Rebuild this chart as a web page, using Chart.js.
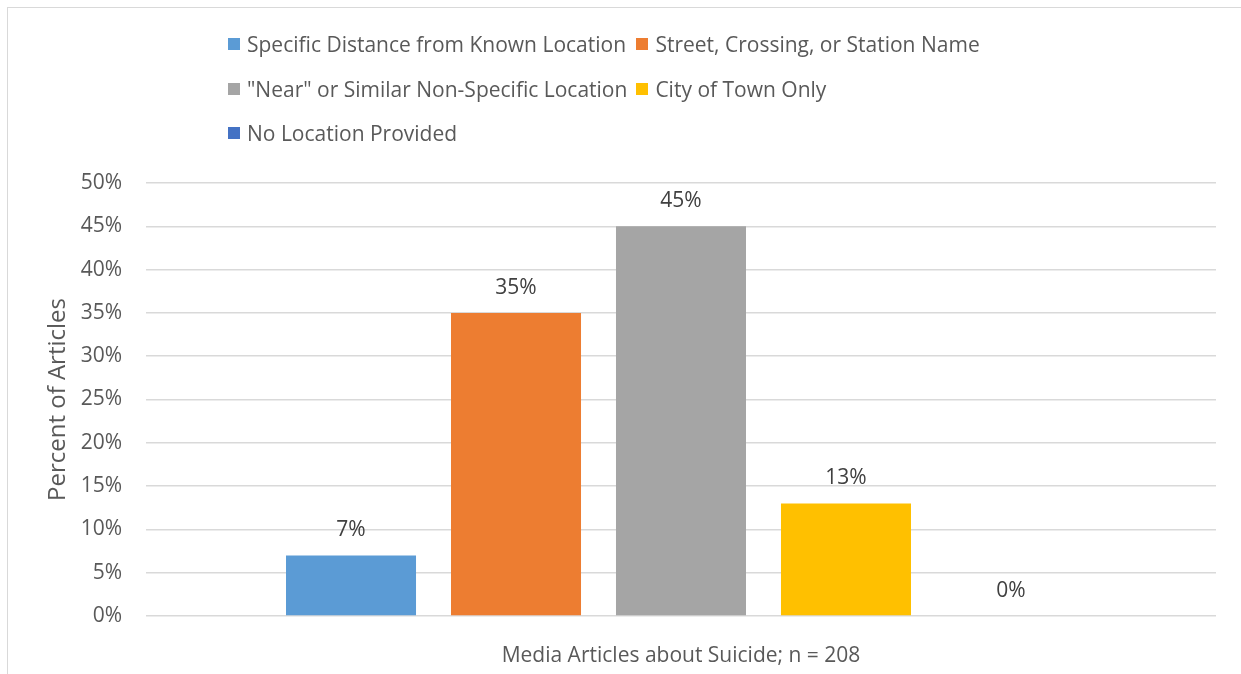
<!DOCTYPE html>
<html>
<head>
<meta charset="utf-8">
<title>Location Detail in Media Articles</title>
<script src="https://cdn.jsdelivr.net/npm/chart.js@4"></script>
<style>
  html, body { margin: 0; padding: 0; background: #fff; }
  #wrap { position: relative; width: 1241px; height: 674px; overflow: hidden; }
  #frame {
    position: absolute; left: 7px; top: 7px; width: 1300px; height: 720px;
    border: 1.5px solid #d9d9d9; box-sizing: border-box;
  }
  #chart { position: absolute; left: 0; top: 0; }
  #legend {
    position: absolute; left: 228px; top: 22px;
    display: grid; grid-template-columns: auto auto; column-gap: 9px;
    font: 21px "Open Sans", sans-serif; color: #595959;
  }
  .item { display: flex; align-items: center; height: 44.5px; white-space: nowrap; }
  .swatch { width: 12px; height: 12px; margin-right: 7px; flex: none; }
</style>
</head>
<body>
<div id="wrap">
  <div id="frame"></div>
  <canvas id="chart" width="1241" height="674"></canvas>
  <div id="legend"></div>
</div>
<script>
const categories = ['Media Articles about Suicide; n = 208'];

const seriesNames = [
    'Specific Distance from Known Location',
    'Street, Crossing, or Station Name',
    '"Near" or Similar Non-Specific Location',
    'City of Town Only',
    'No Location Provided'
];
const seriesValues = [7, 35, 45, 13, 0];
const seriesColors = ['#5b9bd5', '#ed7d31', '#a5a5a5', '#ffc000', '#4472c4'];

const yTickLabels = ['0%', '5%', '10%', '15%', '20%', '25%', '30%', '35%', '40%', '45%', '50%'];

const textColor = '#595959';

// legend laid out in two columns like the spreadsheet legend
const legendBox = document.getElementById('legend');
seriesNames.forEach((name, i) => {
    const item = document.createElement('div');
    item.className = 'item';
    const sw = document.createElement('span');
    sw.className = 'swatch';
    sw.style.background = seriesColors[i];
    const label = document.createElement('span');
    label.textContent = name;
    item.appendChild(sw);
    item.appendChild(label);
    legendBox.appendChild(item);
});

// percentage printed above every bar
const valueLabels = {
    id: 'valueLabels',
    afterDatasetsDraw(chart) {
        const ctx = chart.ctx;
        ctx.save();
        ctx.font = '21px "Open Sans"';
        ctx.fillStyle = '#404040';
        ctx.textAlign = 'center';
        ctx.textBaseline = 'middle';
        chart.data.datasets.forEach((ds, i) => {
            chart.getDatasetMeta(i).data.forEach((bar, j) => {
                ctx.fillText(ds.data[j] + '%', bar.x, bar.y - 25);
            });
        });
        ctx.restore();
    }
};

const ctx = document.getElementById('chart').getContext('2d');
new Chart(ctx, {
    type: 'bar',
    data: {
        labels: categories,
        datasets: seriesNames.map((name, i) => ({
            label: name,
            data: [seriesValues[i]],
            backgroundColor: seriesColors[i],
            categoryPercentage: 0.771,
            barPercentage: 0.788
        }))
    },
    options: {
        responsive: false,
        animation: false,
        layout: { padding: { left: 41, right: 25, top: 183, bottom: 0 } },
        plugins: {
            legend: { display: false },
            tooltip: { enabled: false }
        },
        scales: {
            x: {
                grid: { display: false },
                border: { display: false },
                ticks: { color: textColor, font: { family: 'Open Sans', size: 21 }, padding: 19 },
                afterFit: (scale) => { scale.height = 58; }
            },
            y: {
                min: 0,
                max: 50,
                ticks: {
                    stepSize: 5,
                    color: textColor,
                    font: { family: 'Open Sans', size: 21 },
                    padding: 24,
                    callback: (value, index) => yTickLabels[index]
                },
                grid: { color: '#d9d9d9', lineWidth: 1.5, drawTicks: false },
                border: { display: false },
                title: {
                    display: true,
                    text: 'Percent of Articles',
                    color: textColor,
                    font: { family: 'Open Sans', size: 24 },
                    padding: { top: 3, bottom: 3 }
                },
                afterFit: (scale) => { scale.width = 105; }
            }
        }
    },
    plugins: [valueLabels]
});
</script>
</body>
</html>
